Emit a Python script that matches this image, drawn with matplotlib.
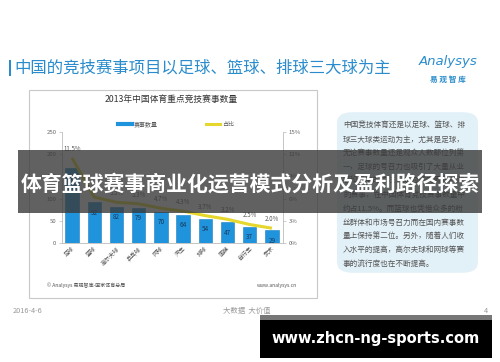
import matplotlib
matplotlib.use("Agg")
import matplotlib.pyplot as plt
from matplotlib.patches import Rectangle, FancyBboxPatch
from matplotlib.lines import Line2D

plt.rcParams['font.family'] = ['Noto Sans CJK SC', 'DejaVu Sans']

categories = ["足球", "篮球", "高尔夫球", "乒乓球", "网球", "汽车", "排球", "围棋", "自行车", "武术"]
counts = [170, 92, 82, 79, 70, 64, 54, 47, 37, 29]
shares = [11.5, 6.2, 5.5, 5.3, 4.7, 4.3, 3.7, 3.2, 2.5, 2.0]
left_ticks = [0, 50, 100, 150, 200, 250]
right_ticks = [0, 3, 6, 9, 12, 15]
right_labels = ["0%", "3%", "6%", "9%", "12%", "15%"]

panel_lines = [
    "中国竞技体育还是以足球、篮球、排",
    "球三大球类运动为主，尤其是足球，",
    "无论赛事数量还是观众人数都位列第",
    "一，足球的号召力也吸引了大量从业",
    "者和资本的关注，成为国内最受欢迎",
    "的赛事，在中国体育竞技赛事数量中",
    "约占11.5%。而篮球也凭借众多的粉",
    "丝群体和市场号召力而在国内赛事数",
    "量上保持第二位。另外，随着人们收",
    "入水平的提高，高尔夫球和网球等赛",
    "事的流行度也在不断提高。",
]

W, H = 500, 362
fig = plt.figure(figsize=(5, 3.62), dpi=100)
fig.patch.set_facecolor("white")

def fx(x):
    return x / W

def fy(y):
    return 1 - y / H

blue = "#2a8ccc"
gray_txt = "#666666"

# Slide title
fig.patches.append(Rectangle((fx(9), fy(76)), fx(2), 16 / H, transform=fig.transFigure,
                             facecolor=blue, edgecolor="none", zorder=-1))
fig.text(fx(14), fy(68), "中国的竞技赛事项目以足球、篮球、排球三大球为主", color=blue,
         fontsize=11.8, va="center", ha="left")
# Logo
fig.text(fx(448), fy(62), "Analysys", color=blue, fontsize=9.5, style="italic",
         va="center", ha="center", family=["DejaVu Sans"])
fig.text(fx(448), fy(79), "易 观 智 库", color=blue, fontsize=5.5, weight="bold",
         va="center", ha="center")

# Chart box
fig.patches.append(Rectangle((fx(29), fy(298)), 288 / W, 208 / H, transform=fig.transFigure,
                             facecolor="none", edgecolor="#c8c8c8", lw=0.8, zorder=-1))
fig.text(fx(171), fy(99), "2013年中国体育重点竞技赛事数量", fontsize=6.3, ha="center",
         va="center", color="#333333")

# Axes
ax = fig.add_axes([fx(62), fy(243), 221 / W, 111 / H])
ax.set_facecolor("none")
x = list(range(len(categories)))
bars = ax.bar(x, counts, width=0.6, color="#1f93dc", edgecolor="#1a80c0", lw=0.4, zorder=2)
ax.set_ylim(0, 250)
ax.set_xlim(-0.45, 9.5)
ax.set_yticks(left_ticks)
ax.set_yticklabels([str(t) for t in left_ticks], fontsize=4.3, color=gray_txt)
ax.set_xticks(x)
ax.set_xticklabels(categories, fontsize=4.2, color="#555555", rotation=45,
                   ha="right", rotation_mode="anchor")
for s in ["top", "right"]:
    ax.spines[s].set_visible(False)
for s in ["left", "bottom"]:
    ax.spines[s].set_color("#bbbbbb")
    ax.spines[s].set_linewidth(0.6)
ax.tick_params(axis="y", length=2, width=0.5, color="#bbbbbb", pad=2)
ax.tick_params(axis="x", length=0, pad=2)
for xi, c in zip(x, counts):
    ax.annotate(str(c), (xi, c), xytext=(0, -7.5), textcoords="offset points",
                ha="center", va="center", fontsize=4.6, color="#1b3a5c", zorder=3)

ax2 = ax.twinx()
ax2.set_ylim(0, 15)
ax2.set_yticks(right_ticks)
ax2.set_yticklabels(right_labels, fontsize=4.3, color=gray_txt)
for s in ["top", "left", "bottom"]:
    ax2.spines[s].set_visible(False)
ax2.spines["right"].set_color("#bbbbbb")
ax2.spines["right"].set_linewidth(0.6)
ax2.tick_params(axis="y", length=2, width=0.5, color="#bbbbbb", pad=2)
ax2.plot(x, shares, color="#e6d72c", lw=2.2, solid_capstyle="butt", zorder=3)
for xi, p in zip(x, shares):
    ax2.annotate(f"{p:.1f}%", (xi, p), xytext=(0, 6.5), textcoords="offset points",
                 ha="center", va="center", fontsize=4.4, color="#555555")

# Legend
h1 = Line2D([], [], color="#1f93dc", lw=3)
h2 = Line2D([], [], color="#e6d72c", lw=2.2)
fig.legend([h1, h2], ["赛事数量", "占比"], loc="center", bbox_to_anchor=(fx(176), fy(124)),
           ncol=2, frameon=False, fontsize=4.3, handlelength=2.3, columnspacing=8,
           handletextpad=0.4, labelcolor="#555555")

# Footer in box
fig.text(fx(47), fy(285), "© Analysys 易观智库-国家体育总局", fontsize=3.6, color="#555555",
         va="center", ha="left")
fig.text(fx(297), fy(285), "www.analysys.cn", fontsize=3.6, color="#555555",
         va="center", ha="right")

# Slide footer
fig.text(fx(13), fy(311), "2016-4-6", fontsize=5.3, color="#999999", va="center", ha="left")
fig.text(fx(223), fy(311), "大数据  大价值", fontsize=5.3, color="#999999", va="center", ha="left")
fig.text(fx(488), fy(311), "4", fontsize=5.3, color="#999999", va="center", ha="right")

# Right panel
fig.patches.append(FancyBboxPatch((fx(345), fy(267)), 125 / W, 149 / H,
                                  boxstyle="round,pad=0.016,rounding_size=0.03",
                                  transform=fig.transFigure, facecolor="#e2f1f8",
                                  edgecolor="none", zorder=-1))
for i, line in enumerate(panel_lines):
    fig.text(fx(343), fy(126 + i * 13.8), line, fontsize=5.5, color="#555555",
             va="center", ha="left")

# Overlay banner
fig.patches.append(Rectangle((fx(18), fy(213)), 464 / W, 63 / H, transform=fig.transFigure,
                             facecolor="#3a3a3a", alpha=0.8, edgecolor="none", zorder=10))
fig.text(fx(250), fy(184), "体育篮球赛事商业化运营模式分析及盈利路径探索", fontsize=15,
         weight="bold", color="white", ha="center", va="center", zorder=11)

# Bottom URL banner
fig.patches.append(Rectangle((fx(260), fy(320)), 232 / W, 5 / H, transform=fig.transFigure,
                             facecolor="#777777", edgecolor="none", zorder=10))
fig.patches.append(Rectangle((fx(260), fy(358)), 232 / W, 38 / H, transform=fig.transFigure,
                             facecolor="black", edgecolor="none", zorder=10))
fig.text(fx(376), fy(338), "www.zhcn-ng-sports.com", fontsize=10.5, weight="bold",
         color="white", ha="center", va="center", zorder=11, family=["DejaVu Sans"])

fig.savefig("out.png", dpi=100)
